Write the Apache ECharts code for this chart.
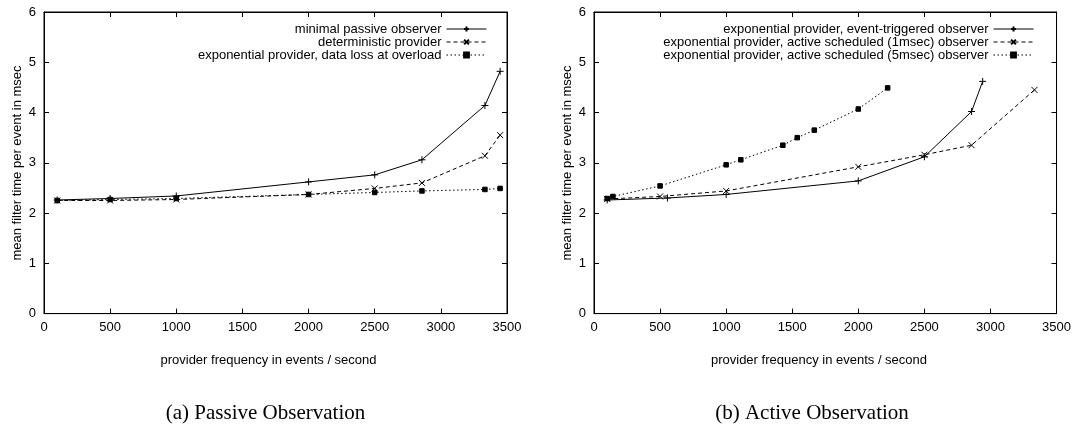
<!DOCTYPE html>
<html>
<head>
<meta charset="utf-8">
<script src="https://cdn.jsdelivr.net/npm/echarts@6/dist/echarts.min.js"></script>
<style>
html,body{margin:0;padding:0;background:#fff;}
#c{width:1074px;height:428px;}
</style>
</head>
<body>
<div id="c"></div>
<script>
// ---- data ----
var xTicks = [0, 500, 1000, 1500, 2000, 2500, 3000, 3500];
var yTicks = [0, 1, 2, 3, 4, 5, 6];

var passiveNames = ['minimal passive observer', 'deterministic provider', 'exponential provider, data loss at overload'];
var passiveMinimal = [[100,2.26],[500,2.29],[1000,2.34],[2000,2.62],[2500,2.76],[2857,3.06],[3333,4.14],[3448,4.82]];
var passiveDeterministic = [[100,2.25],[500,2.25],[1000,2.27],[2000,2.37],[2500,2.49],[2857,2.60],[3333,3.14],[3448,3.55]];
var passiveExpLoss = [[100,2.25],[500,2.27],[1000,2.29],[2000,2.37],[2500,2.41],[2857,2.44],[3333,2.47],[3448,2.49]];

var activeNames = ['exponential provider, event-triggered observer', 'exponential provider, active scheduled (1msec) observer', 'exponential provider, active scheduled (5msec) observer'];
var activeEvent = [[100,2.26],[556,2.30],[1000,2.37],[2000,2.64],[2500,3.12],[2857,4.02],[2941,4.62]];
var active1ms = [[100,2.28],[500,2.33],[1000,2.44],[2000,2.92],[2500,3.16],[2857,3.35],[3333,4.45]];
var active5ms = [[100,2.29],[143,2.33],[500,2.54],[1000,2.96],[1111,3.06],[1429,3.35],[1538,3.50],[1667,3.65],[2000,4.07],[2222,4.49]];

var xAxisName = 'provider frequency in events / second';
var yAxisName = 'mean filter time per event in msec';
var captions = ['(a) Passive Observation', '(b) Active Observation'];

// ---- styling ----
var SANS = '"Liberation Sans", Arial, sans-serif';
var SERIF = '"Liberation Serif", "Times New Roman", serif';
var PLUS = 'path://M0,5L10,5M5,0L5,10';
var CROSS = 'path://M0,0L10,10M10,0L0,10';
var styles = [
  {symbol: PLUS, size: 7, type: 'solid'},
  {symbol: CROSS, size: 6, type: [4, 3]},
  {symbol: 'rect', size: 4.5, type: [1.5, 2.5]}
];

var grids = [
  {left: 44, top: 12, width: 463, height: 301.6, show: true, borderColor: '#000', borderWidth: 1, backgroundColor: 'transparent'},
  {left: 594, top: 12, width: 463, height: 301.6, show: true, borderColor: '#000', borderWidth: 1, backgroundColor: 'transparent'}
];

function plain(v) { return String(v); }

function xAx(gi, pos, labels) {
  return {
    type: 'value', gridIndex: gi, position: pos, min: xTicks[0], max: xTicks[xTicks.length-1], interval: 500,
    axisLine: {show: true, onZero: false, lineStyle: {color: '#000', width: 1}},
    axisTick: {show: true, inside: true, length: 5, lineStyle: {color: '#000'}},
    axisLabel: {show: labels, color: '#000', fontFamily: SANS, fontSize: 13, margin: 7, formatter: plain},
    splitLine: {show: false}
  };
}
function yAx(gi, pos, labels) {
  return {
    type: 'value', gridIndex: gi, position: pos, min: yTicks[0], max: yTicks[yTicks.length-1], interval: 1,
    axisLine: {show: true, onZero: false, lineStyle: {color: '#000', width: 1}},
    axisTick: {show: true, inside: true, length: 5, lineStyle: {color: '#000'}},
    axisLabel: {show: labels, color: '#000', fontFamily: SANS, fontSize: 13, margin: 8, formatter: plain},
    splitLine: {show: false}
  };
}

function mkSeries(name, data, si, axisIdx) {
  var s = styles[si];
  return {
    name: name, type: 'line', data: data, xAxisIndex: axisIdx, yAxisIndex: axisIdx,
    symbol: s.symbol, symbolSize: s.size, showSymbol: true,
    lineStyle: {color: '#000', width: 1, type: s.type},
    itemStyle: {color: '#000', borderColor: '#000', borderWidth: 1},
    emphasis: {disabled: true}, animation: false
  };
}

function mkLegend(names, right) {
  return {
    data: names, orient: 'vertical', align: 'right', right: right, top: 17.5,
    itemWidth: 40, itemHeight: 6, itemGap: 0,
    lineStyle: {width: 1},
    textStyle: {color: '#000', fontFamily: SANS, fontSize: 13, lineHeight: 12.6},
    selectedMode: false
  };
}

var option = {
  animation: false,
  backgroundColor: '#fff',
  grid: grids,
  xAxis: [xAx(0, 'bottom', true), xAx(0, 'top', false), xAx(1, 'bottom', true), xAx(1, 'top', false)],
  yAxis: [yAx(0, 'left', true), yAx(0, 'right', false), yAx(1, 'left', true), yAx(1, 'right', false)],
  legend: [mkLegend(passiveNames, 582), mkLegend(activeNames, 35)],
  series: [
    mkSeries(passiveNames[0], passiveMinimal, 0, 0),
    mkSeries(passiveNames[1], passiveDeterministic, 1, 0),
    mkSeries(passiveNames[2], passiveExpLoss, 2, 0),
    mkSeries(activeNames[0], activeEvent, 0, 2),
    mkSeries(activeNames[1], active1ms, 1, 2),
    mkSeries(activeNames[2], active5ms, 2, 2)
  ],
  graphic: [
    {type: 'text', x: 268.5, y: 360, style: {text: xAxisName, fill: '#000', font: '13px ' + SANS, align: 'center', verticalAlign: 'middle'}},
    {type: 'text', x: 819, y: 360, style: {text: xAxisName, fill: '#000', font: '13px ' + SANS, align: 'center', verticalAlign: 'middle'}},
    {type: 'text', x: 17, y: 163, rotation: Math.PI / 2, style: {text: yAxisName, fill: '#000', font: '13px ' + SANS, align: 'center', verticalAlign: 'middle'}},
    {type: 'text', x: 567, y: 163, rotation: Math.PI / 2, style: {text: yAxisName, fill: '#000', font: '13px ' + SANS, align: 'center', verticalAlign: 'middle'}},
    {type: 'text', x: 265.5, y: 413, style: {text: captions[0], fill: '#000', font: '21px ' + SERIF, align: 'center', verticalAlign: 'middle'}},
    {type: 'text', x: 812, y: 413, style: {text: captions[1], fill: '#000', font: '21px ' + SERIF, align: 'center', verticalAlign: 'middle'}}
  ]
};

var chart = echarts.init(document.getElementById('c'), null, {renderer: 'canvas'});
chart.setOption(option);
</script>
</body>
</html>
